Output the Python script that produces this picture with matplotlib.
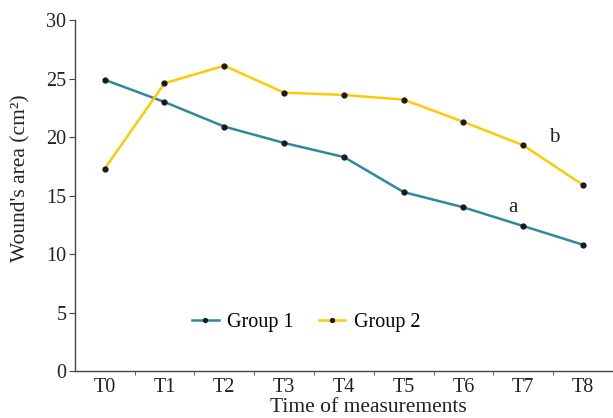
import matplotlib
matplotlib.use("Agg")
import matplotlib.pyplot as plt

# values
times = ["T0", "T1", "T2", "T3", "T4", "T5", "T6", "T7", "T8"]
group1 = [24.9, 23.0, 20.9, 19.5, 18.3, 15.3, 14.0, 12.4, 10.8]
group2 = [17.3, 24.6, 26.1, 23.8, 23.6, 23.2, 21.3, 19.3, 15.9]

BLUE, YELLOW, DOT, FG = "#2e88a0", "#ffc907", "#1a1a1a", "#222222"

plt.rcParams["font.family"] = ["Liberation Serif", "DejaVu Serif"]

fig = plt.figure(figsize=(6.13, 4.18), dpi=100)
ax = fig.add_axes([0.122, 0.112, 0.878, 0.84])

x = list(range(len(times)))
ax.plot(x, group1, color=BLUE, lw=1.8, marker="o", ms=3.5,
        mfc=DOT, mec=DOT, label="Group 1")
ax.plot(x, group2, color=YELLOW, lw=1.8, marker="o", ms=3.5,
        mfc=DOT, mec=DOT, label="Group 2")

ax.text(6.83, 14.0, "a", fontsize=15, color=FG, ha="center", va="center")
ax.text(7.52, 20.0, "b", fontsize=15, color=FG, ha="center", va="center")

ax.set_xlim(-0.5, 8.5)
ax.set_ylim(0, 30)
ax.set_yticks([0, 5, 10, 15, 20, 25, 30])
ax.set_xticks(x)
ax.set_xticklabels(times)
ax.set_xticks([i + 0.5 for i in range(len(times) - 1)], minor=True)
ax.tick_params(axis="x", which="major", length=0, pad=5, labelsize=14.5, colors=FG)
ax.tick_params(axis="x", which="minor", length=3, direction="out", color="#444444")
ax.tick_params(axis="y", length=4, direction="out", labelsize=14.5, colors=FG,
               color="#444444", pad=2)

for side in ("top", "right"):
    ax.spines[side].set_visible(False)
for side in ("left", "bottom"):
    ax.spines[side].set_color("#444444")
    ax.spines[side].set_linewidth(1.0)

ax.set_xlabel("Time of measurements", fontsize=15.5, color=FG)
ax.xaxis.set_label_coords(0.545, -0.103, transform=ax.transAxes)
ax.xaxis.label.set_va("center")
ax.set_ylabel("Wound's area (cm²)", fontsize=15.5, color=FG)
ax.yaxis.set_label_coords(-0.1, 0.55, transform=ax.transAxes)
ax.yaxis.label.set_va("center")

ax.legend(loc="center", bbox_to_anchor=(0.43, 0.14), ncol=2, frameon=False,
          fontsize=14.5, handlelength=1.3, handletextpad=0.4, columnspacing=1.3,
          markerscale=0.8)

fig.savefig("out.png", dpi=100)
